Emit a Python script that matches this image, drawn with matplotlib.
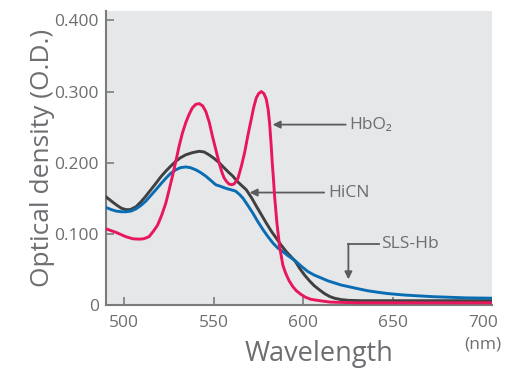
import matplotlib
matplotlib.use("Agg")
import matplotlib.pyplot as plt

plt.rcParams['font.family'] = ['Open Sans', 'DejaVu Sans']

# HbO2 (red)
hbo2_wl = [490, 495.6, 501, 505, 508.5, 511, 514, 516.5, 518.7, 521, 523.3, 525, 527, 529,
           530.7, 532.5, 534.4, 536.3, 538.1, 540, 541.9, 543.8, 545.6, 547.5, 549.3,
           551.2, 553, 554.5, 555.7, 557, 558.5, 560, 561.3, 562.5, 563.5, 565.3, 567.2,
           569, 570.9, 572.3, 573.7, 575, 576.5, 578, 579.3, 580.3, 581.1, 581.9, 582.6,
           583.3, 583.9, 585.2, 586.7, 588.5, 590, 592, 594, 596, 598.5, 601, 604, 609,
           615, 630, 705]
hbo2_od = [0.107, 0.102, 0.096, 0.093, 0.0925, 0.093, 0.096, 0.104, 0.112, 0.126, 0.143,
           0.160, 0.181, 0.203, 0.223, 0.241, 0.256, 0.268, 0.277, 0.282, 0.283, 0.280,
           0.272, 0.257, 0.237, 0.218, 0.200, 0.187, 0.179, 0.174, 0.170, 0.169, 0.170,
           0.174, 0.178, 0.194, 0.214, 0.238, 0.261, 0.278, 0.291, 0.297, 0.300, 0.297,
           0.289, 0.275, 0.256, 0.228, 0.200, 0.176, 0.153, 0.115, 0.082, 0.056, 0.045,
           0.034, 0.026, 0.020, 0.015, 0.011, 0.008, 0.006, 0.004, 0.003, 0.003]

# HiCN (dark gray)
hicn_wl = [490, 493, 495.6, 498.5, 501.1, 503.5, 506.7, 509.5, 512.2, 515, 517.8, 520.5,
           523.3, 526, 528.9, 531.5, 534.4, 538, 541.9, 544.7, 547.4, 550.2, 553, 555.7,
           558.5, 560.7, 563, 565.5, 568.1, 571, 573.7, 576.5, 579.3, 582, 584.8, 587.6,
           590.4, 593, 595.5, 598, 600.6, 603.3, 606, 609, 611.7, 614.5, 617.2, 621, 625,
           632, 705]
hicn_od = [0.152, 0.146, 0.141, 0.136, 0.134, 0.134, 0.138, 0.145, 0.153, 0.162, 0.171,
           0.180, 0.188, 0.195, 0.202, 0.207, 0.211, 0.214, 0.216, 0.215, 0.211, 0.206,
           0.200, 0.193, 0.186, 0.181, 0.174, 0.168, 0.162, 0.151, 0.139, 0.127, 0.115,
           0.104, 0.094, 0.084, 0.075, 0.068, 0.061, 0.051, 0.042, 0.034, 0.027, 0.021,
           0.016, 0.012, 0.0095, 0.0075, 0.0065, 0.006, 0.006]

# SLS-Hb (blue)
slshb_wl = [490, 493, 495.6, 498.5, 501.1, 504, 506.7, 509.5, 512.2, 515, 517.8, 520.5,
            523.3, 526, 528.9, 531.5, 534.4, 537, 540, 542.8, 545.6, 548.4, 551.1, 553.5,
            556.7, 559.5, 562.2, 564.5, 566.3, 569, 571.8, 574.6, 577.4, 580.2, 583, 585.7,
            588.5, 591.5, 595, 598.5, 602.4, 606, 609.8, 613.5, 617.2, 621, 624.6, 630,
            635.7, 641, 647, 656, 671.5, 690, 705]
slshb_od = [0.137, 0.134, 0.132, 0.131, 0.131, 0.132, 0.135, 0.140, 0.146, 0.154, 0.162,
            0.170, 0.178, 0.185, 0.190, 0.193, 0.194, 0.193, 0.190, 0.186, 0.181, 0.175,
            0.169, 0.167, 0.164, 0.162, 0.160, 0.155, 0.150, 0.140, 0.129, 0.117, 0.106,
            0.096, 0.087, 0.080, 0.075, 0.069, 0.063, 0.055, 0.047, 0.042, 0.038, 0.034,
            0.031, 0.028, 0.026, 0.023, 0.020, 0.018, 0.016, 0.014, 0.0117, 0.010, 0.0095]

x_ticks = [500, 550, 600, 650, 700]
y_ticks = [0, 0.1, 0.2, 0.3, 0.4]
y_ticklabels = ['0', '0.100', '0.200', '0.300', '0.400']

TXT = '#6d6e71'
AX = '#7a7b7d'

fig = plt.figure(figsize=(5.12, 3.71), dpi=100)
ax = fig.add_axes([0.207, 0.178, 0.754, 0.792])
ax.set_facecolor('#e6e7e8')

ax.plot(hicn_wl, hicn_od, color='#404041', lw=2.1, zorder=3, solid_joinstyle='round')
ax.plot(slshb_wl, slshb_od, color='#0a6db3', lw=2.1, zorder=3, solid_joinstyle='round')
ax.plot(hbo2_wl, hbo2_od, color='#e8175d', lw=2.1, zorder=4, solid_joinstyle='round')

ax.set_xlim(490, 705)
ax.set_ylim(0, 0.413)
ax.set_xticks(x_ticks)
ax.set_yticks(y_ticks)
ax.set_yticklabels(y_ticklabels)
ax.tick_params(direction='in', length=6, width=1.2, color=AX, labelcolor=TXT,
               labelsize=12.5)
ax.tick_params(axis='x', pad=7)
ax.tick_params(axis='y', pad=5)
for s in ['top', 'right']:
    ax.spines[s].set_visible(False)
for s in ['left', 'bottom']:
    ax.spines[s].set_color(AX)
    ax.spines[s].set_linewidth(1.5)

ax.set_ylabel('Optical density (O.D.)', fontsize=19, color=TXT, labelpad=0)
ax.set_xlabel('Wavelength', fontsize=19.5, color=TXT)
ax.xaxis.set_label_coords(0.552, -0.118)
ax.text(700, -0.055, '(nm)', fontsize=12.5, color=TXT, ha='center', va='center')

arrow = dict(arrowstyle='-|>', color='#5a5b5d', lw=1.3, mutation_scale=11,
             shrinkA=0, shrinkB=0)
ax.annotate('', xy=(582.8, 0.2535), xytext=(623.5, 0.2535), arrowprops=arrow)
ax.text(625.5, 0.2535, 'HbO₂', fontsize=12.5, color=TXT, va='center', ha='left')
ax.annotate('', xy=(570, 0.158), xytext=(611.5, 0.158), arrowprops=arrow)
ax.text(614, 0.158, 'HiCN', fontsize=12.5, color=TXT, va='center', ha='left')
ax.plot([642, 625], [0.086, 0.086], color='#5a5b5d', lw=1.3)
ax.annotate('', xy=(625, 0.036), xytext=(625, 0.086), arrowprops=arrow)
ax.text(643, 0.086, 'SLS-Hb', fontsize=12.5, color=TXT, va='center', ha='left')

fig.savefig('out.png', dpi=100)
